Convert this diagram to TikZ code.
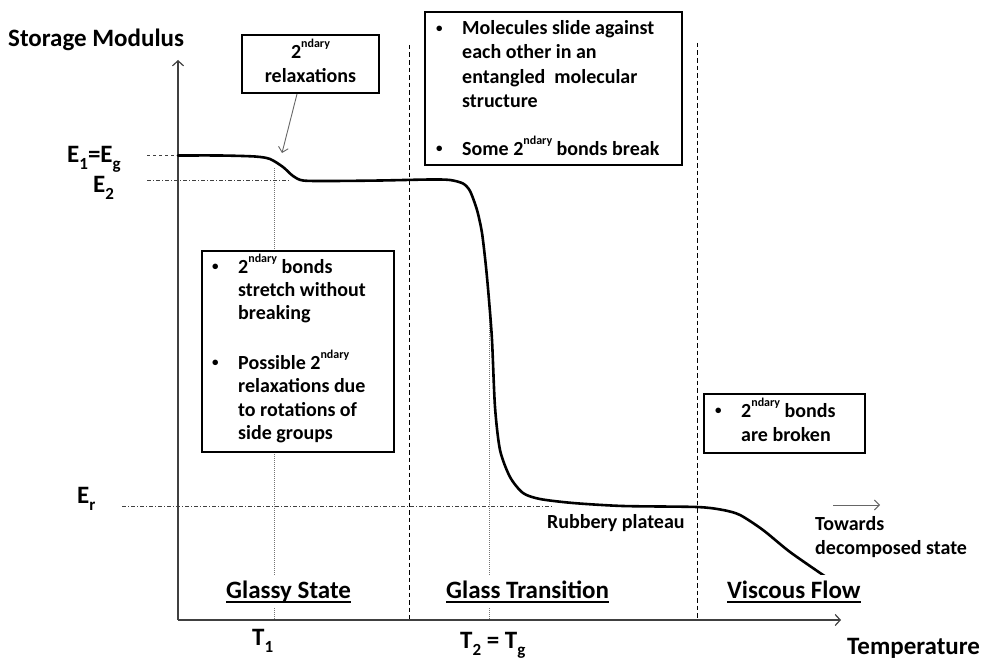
\documentclass[tikz,border=0pt]{standalone}
\usepackage{fontspec}
\setmainfont{Carlito}
\usetikzlibrary{arrows.meta}
\newcommand\mysup[1]{\raisebox{0.55em}{\fontsize{12}{12}\selectfont #1}}
\newcommand\mysub[1]{\raisebox{-0.28em}{\fontsize{17}{17}\selectfont #1}}
\newcommand\myul[1]{\setbox0\hbox{#1}\rlap{\rule[-4.5pt]{\wd0}{1.6pt}}\box0}
\newcommand\mybul{\raisebox{0.3ex}{\fontsize{13}{13}\selectfont\textbullet}}
\begin{document}
\begin{tikzpicture}[x=1pt,y=-1pt,
  axis/.style={line width=1.2pt, draw=black!75, -{Straight Barb[length=5pt,width=11pt]}},
  phase/.style={line width=0.8pt, dash pattern=on 4.5pt off 3pt},
  tline/.style={draw=black!55, line width=0.9pt, dash pattern=on 1pt off 1pt},
  refline/.style={draw=black!75, line width=0.8pt, dash pattern=on 4pt off 2pt on 1pt off 2pt},
  eline/.style={draw=black!75, line width=0.8pt, dash pattern=on 3pt off 3pt},
  curve/.style={line width=2.6pt, line join=round, line cap=round},
  frame/.style={draw, line width=2pt, fill=white, inner sep=0pt},
  garrow/.style={draw=black!60, line width=0.9pt, -{Straight Barb[length=5pt,width=10pt]}},
  lbl/.style={font=\fontsize{25}{29}\selectfont\bfseries, inner sep=0pt, anchor=base west},
  plbl/.style={lbl, fill=white, inner ysep=5pt},
  boxtxt/.style={font=\fontsize{20}{24}\selectfont\bfseries, inner sep=0pt, anchor=base west},
  smalltxt/.style={font=\fontsize{20}{24}\selectfont\bfseries, inner sep=0pt, anchor=base west}
]
\useasboundingbox (0,0) rectangle (984,661);

% axes
\coordinate (O) at (178,620);
\coordinate (ytop) at (178,60);
\coordinate (xend) at (841,620);

% phase boundaries
\coordinate (p1t) at (409,45);  \coordinate (p1b) at (409,620);
\coordinate (p2t) at (697,43);  \coordinate (p2b) at (697,620);
\draw[phase] (p1t) -- (p1b);
\draw[phase] (p2t) -- (p2b);

% temperature markers
\coordinate (t1t) at (274,168); \coordinate (t1b) at (274,620);
\coordinate (t2t) at (489,320); \coordinate (t2b) at (489,620);
\draw[tline] (t1t) -- (t1b);
\draw[tline] (t2t) -- (t2b);

% modulus reference lines
\coordinate (e1a) at (147,155); \coordinate (e1b) at (178,155);
\coordinate (e2a) at (147,180); \coordinate (e2b) at (290,180);
\coordinate (era) at (122,506); \coordinate (erb) at (553,506);
\draw[eline] (e1a) -- (e1b);
\draw[refline] (e2a) -- (e2b);
\draw[refline] (era) -- (erb);

\draw[axis] (O) -- (ytop);
\draw[axis] (O) -- (xend);

% curve
\draw[curve] plot[smooth, tension=0.45] coordinates {
 (178,155.5) (220,155.5) (255,156.5) (270,159) (283,167) (293,176) (303,180.5)
 (330,181) (380,180.5) (430,179.5) (450,180) (463,183.5) (470,191) (477,210)
 (482,233) (486,267) (489,300) (492,340) (495,407) (500,450) (510,477)
 (523,493) (540,499) (573,503) (623,506) (697,507) (723,510) (740,515)
 (763,530) (790,552) (826,577)};

% boxes
\node[frame, minimum width=137pt, minimum height=58pt] (b1) at (310.5,64) {};
\node[boxtxt, anchor=base] (b1t) at (310.5,59) {\begin{tabular}[t]{@{}c@{}}2\mysup{ndary}\\ relaxations\end{tabular}};
\coordinate (r1) at (282,153);
\draw[garrow] ([xshift=-13.5pt]b1.south) -- (r1);

\node[frame, minimum width=257pt, minimum height=153pt] (b2) at (553.5,88.5) {};
\node[boxtxt] (b2t) at (436,35) {\begin{tabular}[t]{@{}p{26pt}@{}l@{}}
\mybul & Molecules slide against\\
 & each other in an\\
 & entangled\ \ molecular\\
 & structure\\[22pt]
\mybul & Some 2\mysup{ndary} bonds break
\end{tabular}};

\node[frame, minimum width=192pt, minimum height=201pt] (b3) at (298,351.5) {};
\node[boxtxt, font=\fontsize{20}{23.4}\selectfont\bfseries] (b3t) at (212,273) {\begin{tabular}[t]{@{}p{26pt}@{}l@{}}
\mybul & 2\mysup{ndary} bonds\\
 & stretch without\\
 & breaking\\[23pt]
\mybul & Possible 2\mysup{ndary}\\
 & relaxations due\\
 & to rotations of\\
 & side groups
\end{tabular}};

\node[frame, minimum width=161pt, minimum height=59pt] (b4) at (784.5,423.5) {};
\node[boxtxt] (b4t) at (715,417) {\begin{tabular}[t]{@{}p{26pt}@{}l@{}}
\mybul & 2\mysup{ndary} bonds\\
 & are broken
\end{tabular}};

% labels
\node[lbl] (ylab) at (8,47) {Storage Modulus};
\node[lbl] (e1) at (67,162) {E\mysub{1}=E\mysub{g}};
\node[lbl] (e2) at (93,192) {E\mysub{2}};
\node[lbl] (er) at (77,503) {E\mysub{r}};
\node[lbl] (t1) at (252,645) {T\mysub{1}};
\node[lbl] (t2) at (460,648) {T\mysub{2} = T\mysub{g}};
\node[lbl] (xlab) at (847,654) {Temperature};
\node[plbl] (ph1) at (226,598) {\myul{Glassy State}};
\node[plbl] (ph2) at (446,598) {\myul{Glass Transition}};
\node[plbl] (ph3) at (727,598) {\myul{Viscous Flow}};
\node[smalltxt] (rp) at (547,528) {Rubbery plateau};
\node[boxtxt] (tw) at (815,530) {\begin{tabular}[t]{@{}l@{}}Towards\\ decomposed state\end{tabular}};
\coordinate (twa) at (833,505);
\coordinate (twb) at (880,505);
\draw[garrow] (twa) -- (twb);
\end{tikzpicture}
\end{document}
